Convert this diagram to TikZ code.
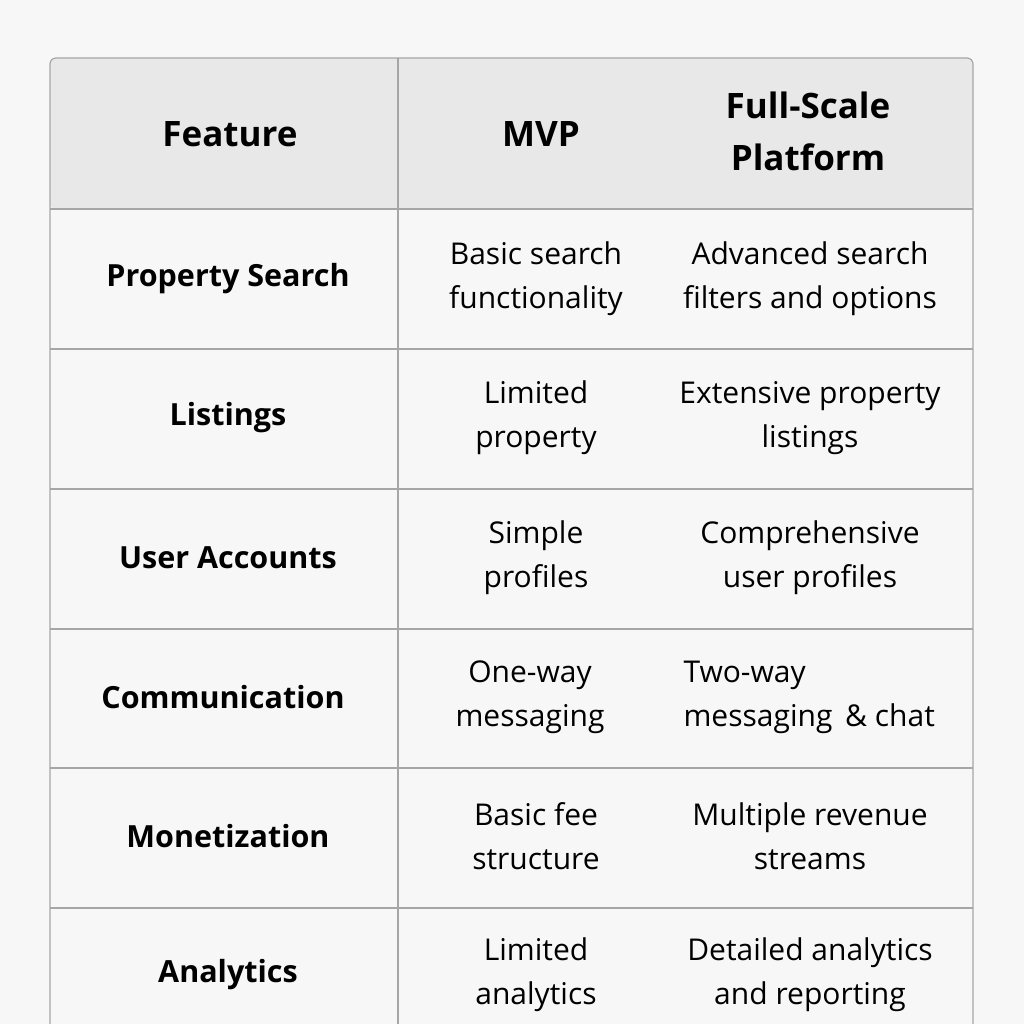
\documentclass[tikz,border=0pt]{standalone}
\usepackage{fontspec}
\setmainfont{Open Sans}
\begin{document}
\begin{tikzpicture}[x=1pt,y=-1pt,
 cell/.style={align=center,font=\fontsize{30}{44}\selectfont},
 rowh/.style={font=\fontsize{30.5}{44}\selectfont\bfseries},
 head/.style={align=center,font=\fontsize{35}{52}\selectfont\bfseries},
 grid/.style={draw=black!35,line width=1.2pt}]
\fill[white!97!black] (0,0) rectangle (1024,1024);
\useasboundingbox (0,0) rectangle (1024,1024);
\fill[black!3] (50,209) rectangle (973,1030);
\fill[black!9,rounded corners=6pt] (50,209) -- (50,58) -- (973,58) -- (973,209) -- cycle;
\draw[grid,rounded corners=6pt] (50,1030) -- (50,58) -- (973,58) -- (973,1030);
\foreach \y in {209,349,489,629,768,908} \draw[grid] (50,\y) -- (973,\y);
\draw[grid] (398,58) -- (398,1030);
\node[head] (h1) at (230,134) {Feature};
\node[head] (h2) at (541,134) {MVP};
\node[head] (h3) at (808,131) {Full-Scale\\Platform};
\foreach \y/\a/\b/\c in {279/Property Search/Basic search\\functionality/Advanced search\\filters and options,
 418/Listings/Limited\\property/Extensive property\\listings,
 558/User Accounts/Simple\\profiles/Comprehensive\\user profiles,
 836/Monetization/Basic fee\\structure/Multiple revenue\\streams,
 975/Analytics/Limited\\analytics/Detailed analytics\\and reporting}{
 \node[rowh] at (228,\y) {\a};
 \node[cell] at (536,\y) {\b};
 \node[cell] at (810,\y) {\c};}
\node[rowh] (r4) at (223,697) {Communication};
\node[cell] (m4) at (530,697) {One-way\\messaging};
\node[cell,align=left,anchor=west] (f4) at (680,697) {Two-way\\messaging \,\& chat};
\end{tikzpicture}
\end{document}
